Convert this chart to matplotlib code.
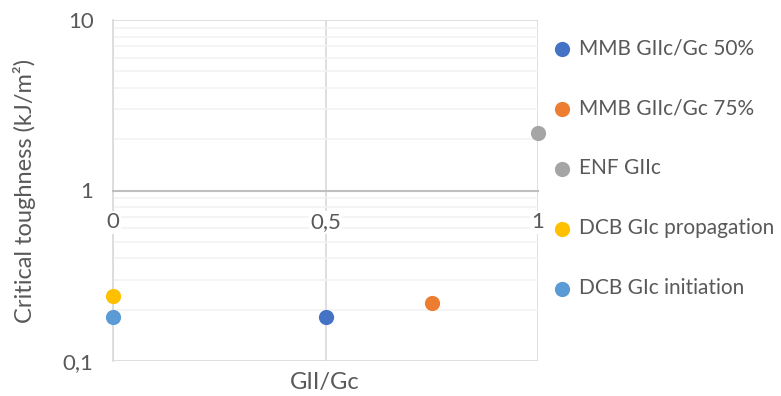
import matplotlib
matplotlib.use("Agg")
import matplotlib.pyplot as plt
from matplotlib.ticker import FixedLocator, LogLocator, NullFormatter

plt.rcParams['font.family'] = ['Lato', 'DejaVu Sans']

series_names = ["MMB GIIc/Gc 50%", "MMB GIIc/Gc 75%", "ENF GIIc",
                "DCB GIc propagation", "DCB GIc initiation"]
x_values = [0.5, 0.75, 1.0, 0.0, 0.0]
y_values = [0.18, 0.22, 2.18, 0.24, 0.18]
colors = ["#4472C4", "#ED7D31", "#A5A5A5", "#FFC000", "#5B9BD5"]
x_ticks = [0, 0.5, 1]
x_tick_labels = ["0", "0,5", "1"]
y_ticks = [0.1, 1, 10]
y_tick_labels = ["0,1", "1", "10"]

txt = "#595959"
fs = 15
fig = plt.figure(figsize=(7.81, 3.96), dpi=100)
ax = fig.add_axes([113/781, 35/396, 425/781, 341/396])

handles = []
for name, xv, yv, c in zip(series_names, x_values, y_values, colors):
    h = ax.scatter([xv], [yv], s=120, color=c, label=name, zorder=5,
                   clip_on=False, linewidths=0)
    handles.append(h)

ax.set_yscale('log')
ax.set_ylim(0.1, 10)
ax.set_xlim(0, 1)
ax.yaxis.set_major_locator(FixedLocator(y_ticks))
ax.set_yticklabels(y_tick_labels)
ax.yaxis.set_minor_locator(LogLocator(base=10, subs=range(2, 10)))
ax.yaxis.set_minor_formatter(NullFormatter())
ax.set_xticks(x_ticks)
ax.set_xticklabels([])

ax.grid(True, which='major', axis='both', color='#D9D9D9', lw=1.2, zorder=0)
ax.grid(True, which='minor', axis='y', color='#F2F2F2', lw=1.2, zorder=0)
ax.set_axisbelow(True)

for s in ['top', 'right']:
    ax.spines[s].set_visible(False)
ax.spines['left'].set_color('#D9D9D9')
ax.spines['left'].set_linewidth(1.2)
ax.spines['bottom'].set_position(('data', 1))
ax.spines['bottom'].set_color('#BFBFBF')
ax.spines['bottom'].set_linewidth(1.5)

ax.tick_params(axis='both', which='both', length=0, colors=txt, labelsize=16)
ax.tick_params(axis='y', pad=14)

# x tick labels sit just below the y=1 axis line, with a white backing
for xv, lab in zip(x_ticks, x_tick_labels):
    ax.annotate(lab, xy=(xv, 1), xytext=(0, -32), textcoords='offset pixels',
                ha='center', va='center', fontsize=16, color=txt, zorder=4,
                annotation_clip=False,
                bbox=dict(facecolor='white', edgecolor='none', pad=1))

fig.text(325/781, 1 - 382/396, "GII/Gc", color=txt, fontsize=17,
         ha='center', va='center')
fig.text(25/781, 1 - 191/396, "Critical toughness (kJ/m²)", color=txt,
         fontsize=17, ha='center', va='center', rotation=90)

leg = fig.legend(handles=handles, labels=series_names, loc='upper left',
                 bbox_to_anchor=(543/781, 1 - 30/396), frameon=False,
                 fontsize=fs, labelspacing=1.92, handlelength=1.0,
                 handletextpad=0.35, markerscale=1.0, borderaxespad=0)
for t in leg.get_texts():
    t.set_color(txt)

fig.savefig("out.png", dpi=100)
